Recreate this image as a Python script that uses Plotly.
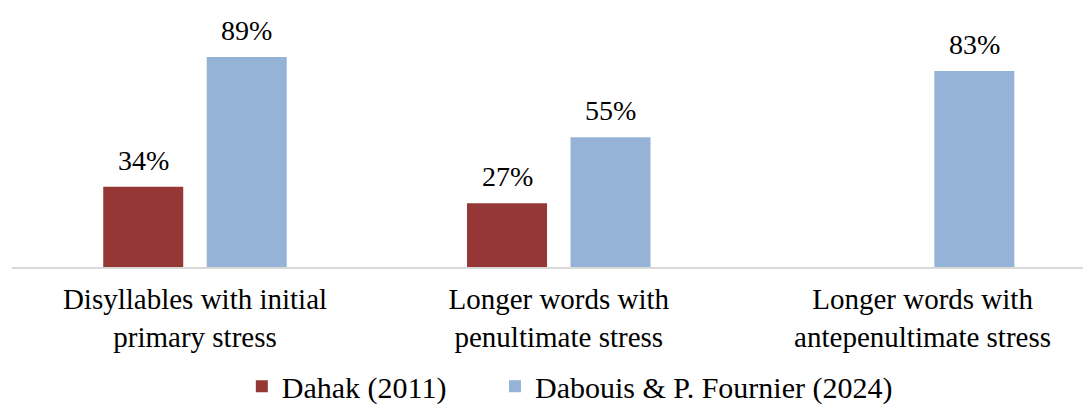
import plotly.graph_objects as go

categories = ["Disyllables with initial<br>primary stress",
              "Longer words with<br>penultimate stress",
              "Longer words with<br>antepenultimate stress"]
dahak = [34, 27, None]
dabouis = [89, 55, 83]
series_names = ["Dahak (2011)", "Dabouis & P. Fournier (2024)"]

FONT = "Liberation Serif, Times New Roman, serif"
FS = 29
FS_LABEL = 28
FS_LEG = 30

fig = go.Figure()
fig.add_trace(go.Bar(x=categories, y=dahak, name=series_names[0], legend="legend",
                     marker=dict(color="#953735", line=dict(width=0))))
fig.add_trace(go.Bar(x=categories, y=dabouis, name=series_names[1], legend="legend2",
                     marker=dict(color="#95B3D7", line=dict(width=0))))

# data labels above the bars
for vals, dx in ((dahak, -51.75), (dabouis, 51.75)):
    for cat, v in zip(categories, vals):
        if v is None:
            continue
        fig.add_annotation(x=cat, y=v, xref="x", yref="y", text=f"{v}%",
                           showarrow=False, xanchor="center", yanchor="bottom",
                           xshift=dx, yshift=9,
                           font=dict(family=FONT, size=FS_LABEL, color="black"))

leg_common = dict(orientation="h", y=-0.505, yanchor="middle",
                  font=dict(family=FONT, size=FS_LEG, color="black"),
                  bgcolor="rgba(0,0,0,0)", itemsizing="constant")

fig.update_layout(
    width=1083, height=397,
    margin=dict(l=4, r=0, t=23, b=138, autoexpand=False),
    paper_bgcolor="white", plot_bgcolor="white",
    barmode="group", bargap=0.431, bargroupgap=0.227,
    font=dict(family=FONT, size=FS, color="black"),
    showlegend=True,
    legend=dict(x=0.213, xanchor="left", **leg_common),
    legend2=dict(x=0.4476, xanchor="left", **leg_common),
    xaxis=dict(range=[-0.503, 2.463], showline=True, linecolor="#d9d9d9", linewidth=2,
               ticks="", automargin=False, ticklabelstandoff=5,
               tickfont=dict(family=FONT, size=FS, color="black"),
               showgrid=False),
    yaxis=dict(range=[0, 100], visible=False, showgrid=False, zeroline=False,
               automargin=False),
)

fig.write_html("out.html")
